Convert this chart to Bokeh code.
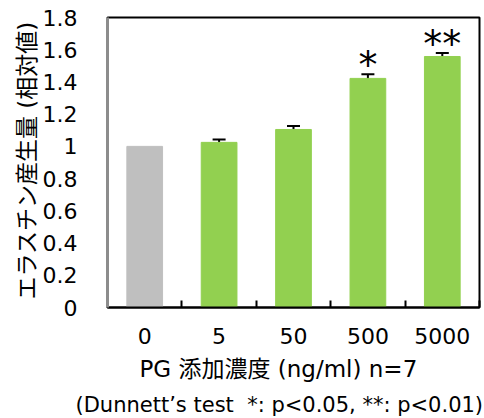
from bokeh.plotting import figure
from bokeh.models import Range1d, FixedTicker, ColumnDataSource, Whisker, TeeHead, Title
from bokeh.core.properties import value
from bokeh.embed import file_html
from bokeh.resources import INLINE

categories = ["0", "5", "50", "500", "5000"]
values = [1.00, 1.025, 1.105, 1.422, 1.558]
errors = [0.0, 0.018, 0.022, 0.025, 0.022]
colors = ["#bfbfbf", "#92d050", "#92d050", "#92d050", "#92d050"]
sig = ["", "", "", "*", "**"]
y_ticks = [0, 0.2, 0.4, 0.6, 0.8, 1.0, 1.2, 1.4, 1.6, 1.8]
y_tick_labels = ["0", "0.2", "0.4", "0.6", "0.8", "1", "1.2", "1.4", "1.6", "1.8"]
y_title = "エラスチン産生量 (相対値)"
x_title = "PG 添加濃度 (ng/ml) n=7"
note = "(Dunnett\u2019s test\u00a0 *: p<0.05, **: p<0.01)"

FONT = "'DejaVu Sans', 'Noto Sans CJK JP', sans-serif"
STAR_FONT = "'DejaVu Sans ExtraLight', 'DejaVu Sans', sans-serif"

xs = [i + 0.5 for i in range(len(categories))]
tops = [v + e for v, e in zip(values, errors)]

p = figure(width=484, height=418, output_backend="svg", toolbar_location=None,
           x_range=Range1d(0, len(categories)), y_range=Range1d(0, 1.8),
           min_border_left=107, min_border_top=17, min_border_right=5, min_border_bottom=109)
p.background_fill_color = "white"
p.border_fill_color = "white"
p.xgrid.visible = False
p.ygrid.visible = False
p.outline_line_color = "black"
p.outline_line_width = 2

src = ColumnDataSource(dict(x=xs, top=values, color=colors, upper=tops, sig=sig))
p.vbar(x="x", top="top", bottom=0, width=0.48, color="color", source=src)

eidx = [i for i, e in enumerate(errors) if e > 0]
esrc = ColumnDataSource(dict(x=[xs[i] for i in eidx],
                             upper=[tops[i] for i in eidx],
                             lower=[values[i] - errors[i] for i in eidx]))
w = Whisker(base="x", upper="upper", lower="lower", source=esrc, line_width=2, line_color="black",
            upper_head=TeeHead(size=13, line_width=2, line_color="black"),
            lower_head=TeeHead(size=13, line_width=2, line_color="black"))
p.add_layout(w)

p.text(x="x", y="upper", text="sig", source=src, text_align="center", text_baseline="bottom",
       y_offset=13, text_font_size="38px", text_font=value(STAR_FONT), text_color="black")

# y axis
yax = p.yaxis[0]
yax.ticker = FixedTicker(ticks=y_ticks)
yax.major_label_overrides = {t: l for t, l in zip(y_ticks, y_tick_labels)}
yax.major_tick_line_color = None
yax.minor_tick_line_color = None
yax.axis_line_color = "#8c8c8c"
yax.axis_line_width = 3
yax.major_label_standoff = 24
yax.major_label_text_font_size = "22px"
yax.major_label_text_font = FONT
yax.major_label_text_color = "black"

ty = Title(text=y_title, align="left", text_font_size="23px", text_font=FONT,
           text_font_style="normal", text_color="black", offset=8, standoff=0)
p.add_layout(ty, "left")

# x axis
xax = p.xaxis[0]
xax.ticker = FixedTicker(ticks=xs, minor_ticks=list(range(len(categories) + 1)))
xax.major_label_overrides = {x: c for x, c in zip(xs, categories)}
xax.major_tick_line_color = None
xax.minor_tick_in = 7
xax.minor_tick_out = 0
xax.minor_tick_line_width = 2
xax.minor_tick_line_color = "black"
xax.axis_line_color = "black"
xax.axis_line_width = 2
xax.major_label_standoff = 14
xax.major_label_text_font_size = "22px"
xax.major_label_text_font = FONT
xax.major_label_text_color = "black"

t1 = Title(text=x_title, align="left", text_font_size="23px", text_font=FONT,
           text_font_style="normal", text_color="black", offset=32, standoff=14)
p.add_layout(t1, "below")
t2 = Title(text=note, align="left", text_font_size="21px", text_font=FONT,
           text_font_style="normal", text_color="black", offset=-32, standoff=4)
p.add_layout(t2, "below")

open("out.html", "w").write(file_html(p, INLINE))
